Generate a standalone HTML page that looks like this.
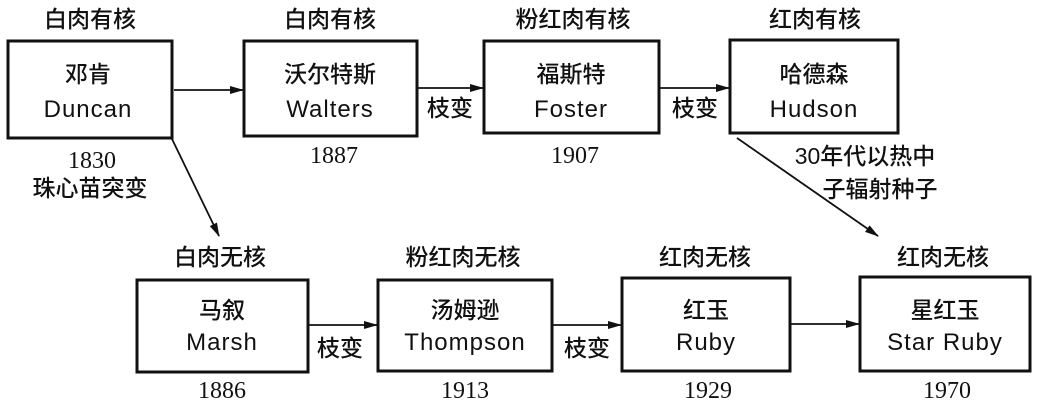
<!DOCTYPE html><html><head><meta charset="utf-8"><style>body{margin:0;background:#fff}svg text{font-family:"Liberation Serif","Noto Serif CJK SC",serif;fill:#111}.c{font-family:"Liberation Sans","Noto Sans CJK SC",sans-serif;font-weight:500}.l{font-family:"Liberation Sans",sans-serif;letter-spacing:1px}</style></head><body>
<svg width="1041" height="403" viewBox="0 0 1041 403" xmlns="http://www.w3.org/2000/svg">
<defs><marker id="a" markerWidth="14" markerHeight="8" refX="13" refY="4" orient="auto" markerUnits="userSpaceOnUse"><path d="M0,0L14,4L0,8z" fill="#111"/></marker></defs>
<g fill="none" stroke="#111" stroke-width="3">
<rect x="8" y="41" width="164" height="97"/>
<rect x="244" y="41" width="173" height="95"/>
<rect x="484" y="41" width="175" height="92"/>
<rect x="730" y="40" width="168" height="93"/>
<rect x="137" y="280" width="171" height="92"/>
<rect x="378" y="280" width="174" height="91"/>
<rect x="622" y="278" width="168" height="93"/>
<rect x="860" y="277" width="170" height="94"/>
</g>
<g stroke="#111" stroke-width="1.8" fill="none" marker-end="url(#a)">
<line x1="174" y1="90" x2="243" y2="90"/>
<line x1="418" y1="88" x2="483" y2="88"/>
<line x1="660" y1="88" x2="729" y2="88"/>
<line x1="172" y1="139" x2="219" y2="236"/>
<line x1="737" y1="138" x2="878" y2="236"/>
<line x1="309" y1="325" x2="377" y2="325"/>
<line x1="553" y1="325" x2="621" y2="325"/>
<line x1="791" y1="324" x2="859" y2="324"/>
</g>
<g font-size="23" text-anchor="middle">
<text x="90" y="27" class="c">白肉有核</text>
<text x="330" y="27" class="c">白肉有核</text>
<text x="573" y="27" class="c">粉红肉有核</text>
<text x="815" y="27" class="c">红肉有核</text>
<text x="220" y="265" class="c">白肉无核</text>
<text x="463" y="265" class="c">粉红肉无核</text>
<text x="705" y="265" class="c">红肉无核</text>
<text x="943" y="265" class="c">红肉无核</text>
<text x="88" y="82" class="c">邓肯</text>
<text x="330" y="82" class="c">沃尔特斯</text>
<text x="571" y="82" class="c">福斯特</text>
<text x="814" y="82" class="c">哈德森</text>
<text x="222" y="318" class="c">马叙</text>
<text x="465" y="318" class="c">汤姆逊</text>
<text x="706" y="318" class="c">红玉</text>
<text x="945" y="318" class="c">星红玉</text>
<text x="90" y="196" class="c">珠心苗突变</text>
<text x="450" y="116" class="c">枝变</text>
<text x="695" y="116" class="c">枝变</text>
<text x="340" y="356" class="c">枝变</text>
<text x="587" y="356" class="c">枝变</text>
<text x="865" y="164" class="c">30年代以热中</text>
<text x="880" y="197" class="c">子辐射种子</text>
</g>
<g font-size="24" text-anchor="middle" class="l">
<text x="88" y="117" class="l">Duncan</text>
<text x="330" y="117" class="l">Walters</text>
<text x="571" y="117" class="l">Foster</text>
<text x="814" y="117" class="l">Hudson</text>
<text x="222" y="350" class="l">Marsh</text>
<text x="465" y="350" class="l">Thompson</text>
<text x="706" y="350" class="l">Ruby</text>
<text x="945" y="350" class="l">Star Ruby</text>
</g>
<g font-size="24" text-anchor="middle">
<text x="92" y="168">1830</text>
<text x="334" y="163">1887</text>
<text x="575" y="163">1907</text>
<text x="222" y="398">1886</text>
<text x="465" y="398">1913</text>
<text x="708" y="398">1929</text>
<text x="947" y="398">1970</text>
</g>
</svg></body></html>
